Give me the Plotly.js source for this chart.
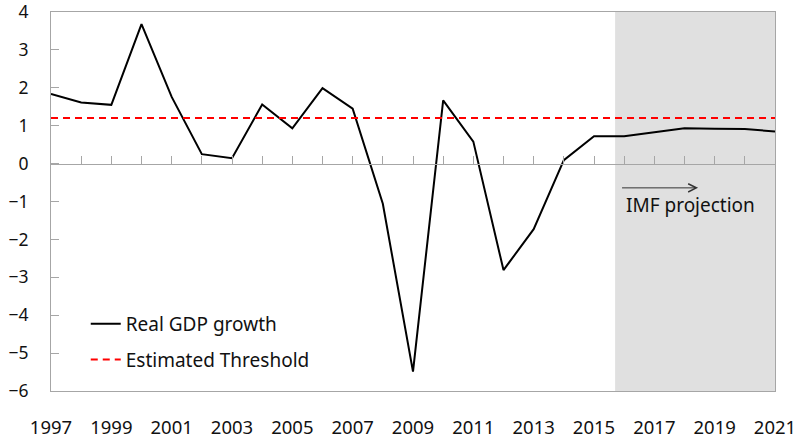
<!DOCTYPE html>
<html>
<head>
<meta charset="utf-8">
<script src="https://cdn.plot.ly/plotly-3.0.1.min.js"></script>
<style>html,body{margin:0;padding:0;background:#fff;}#chart{width:798px;height:445px;}</style>
</head>
<body>
<div id="chart"></div>
<script>
const years = [1997,1998,1999,2000,2001,2002,2003,2004,2005,2006,2007,2008,2009,2010,2011,2012,2013,2014,2015,2016,2017,2018,2019,2020,2021];
const gdpGrowth = [1.84,1.61,1.55,3.68,1.76,0.25,0.14,1.56,0.93,1.99,1.45,-1.06,-5.49,1.67,0.58,-2.81,-1.73,0.09,0.72,0.72,0.83,0.93,0.92,0.91,0.85];
const thresholdYears = [1997, 2021];
const thresholdValue = [1.2, 1.2];
const projectionSpan = [2015.7, 2021];
const tickYears = [1997,1999,2001,2003,2005,2007,2009,2011,2013,2015,2017,2019,2021];
const seriesNames = ["Real GDP growth", "Estimated Threshold"];
const noteText = "IMF projection";

const FONT = "'Noto Sans', 'Open Sans', sans-serif";
const AXIS_GRAY = "#a6a6a6";
const TXT = "#111111";

const data = [
  {x: years, y: gdpGrowth, type: "scatter", mode: "lines", name: seriesNames[0],
   line: {color: "#000000", width: 2}, legendgroup: "a"},
  {x: thresholdYears, y: thresholdValue, type: "scatter", mode: "lines", name: seriesNames[1],
   xaxis: "x2", line: {color: "#ff0000", width: 2, dash: "7px,5px"}, legendgroup: "b"}
];

const layout = {
  width: 798, height: 445,
  margin: {l: 51, r: 23, t: 12, b: 54},
  paper_bgcolor: "#ffffff", plot_bgcolor: "#ffffff",
  font: {family: FONT, size: 18.5, color: TXT},
  showlegend: true,
  legend: {x: 0.048, xanchor: "left", y: 0.227, yanchor: "top", bgcolor: "rgba(0,0,0,0)",
           font: {family: FONT, size: 19, color: TXT}, traceorder: "grouped", tracegroupgap: 8},
  xaxis: {range: [1997, 2021], tickvals: tickYears, ticktext: tickYears.map(String),
          showgrid: false, zeroline: false, showline: true, mirror: true, linecolor: AXIS_GRAY, linewidth: 1,
          ticks: "", ticklabelstandoff: 20, ticklabeloverflow: "allow",
          tickfont: {family: FONT, size: 18.5, color: TXT}},
  xaxis2: {range: [1997, 2021], overlaying: "x", anchor: "free", position: 0.6, side: "bottom",
           dtick: 1, tick0: 1997, ticks: "inside", ticklen: 8, tickcolor: AXIS_GRAY, tickwidth: 1,
           showticklabels: false, showgrid: false, zeroline: false, showline: true, linecolor: AXIS_GRAY, linewidth: 1},
  yaxis: {range: [-6, 4], dtick: 1, showgrid: false, zeroline: false, showline: true, mirror: true,
          linecolor: AXIS_GRAY, linewidth: 1, ticks: "inside", ticklen: 8, tickcolor: AXIS_GRAY,
          ticklabelstandoff: 18, ticklabeloverflow: "allow",
          tickfont: {family: FONT, size: 17.5, color: TXT}},
  shapes: [
    {type: "rect", xref: "x", yref: "y", x0: projectionSpan[0], x1: projectionSpan[1], y0: -6, y1: 4,
     fillcolor: "#e0e0e0", line: {width: 0}, layer: "below"}
  ],
  annotations: [
    {x: 2018.45, y: -0.64, xref: "x", yref: "y", ax: 2015.88, ay: -0.64, axref: "x", ayref: "y",
     text: "", showarrow: true, arrowhead: 5, arrowsize: 1.6, arrowwidth: 1, arrowcolor: "#333333"},
    {x: 2016.0, y: -1.1, xref: "x", yref: "y", text: noteText, showarrow: false,
     xanchor: "left", yanchor: "middle", font: {family: FONT, size: 19, color: TXT}}
  ]
};

Plotly.newPlot("chart", data, layout, {displayModeBar: false, staticPlot: true});
</script>
</body>
</html>
